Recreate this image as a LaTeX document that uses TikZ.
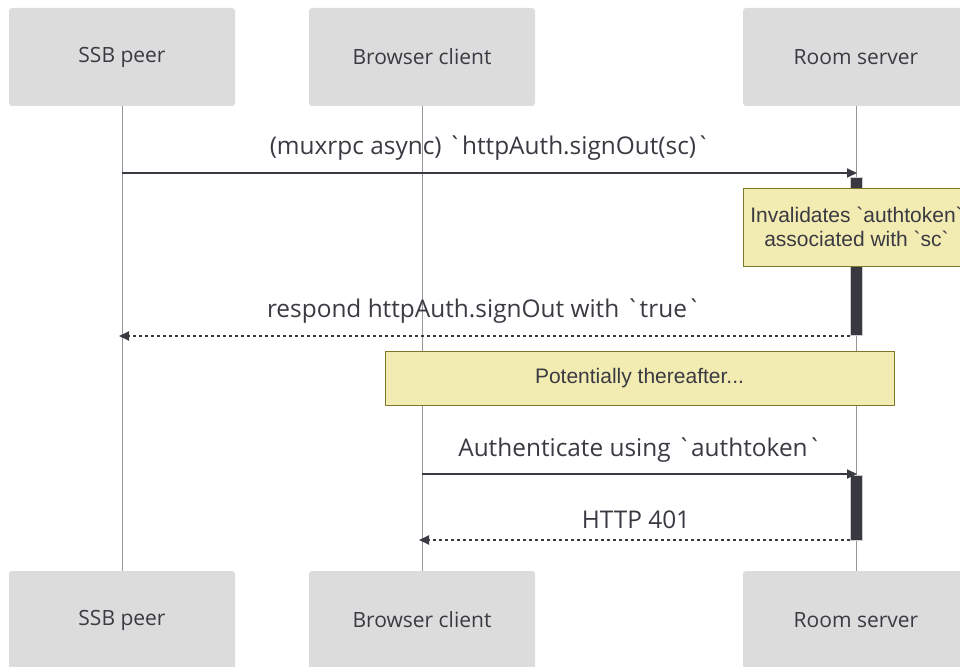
\documentclass[tikz,border=0pt]{standalone}
\usepackage{fontspec}
\newfontfamily\notefont[Ligatures=TeXOff]{Liberation Sans}
\newfontfamily\labelfont[Ligatures=TeXOff]{Open Sans}
\usetikzlibrary{arrows.meta}

\definecolor{actorfill}{RGB}{220,220,220}
\definecolor{inkgray}{RGB}{58,58,66}
\definecolor{lifegray}{RGB}{150,150,150}
\definecolor{notefill}{RGB}{243,236,178}
\definecolor{noteedge}{RGB}{128,118,42}
\definecolor{barfill}{RGB}{56,57,64}
\definecolor{baredge}{RGB}{205,205,205}

\tikzset{
  actor/.style={fill=actorfill, rounded corners=3pt, minimum width=226pt,
    minimum height=98pt, inner sep=0pt, text=inkgray,
    font=\labelfont\fontsize{21}{25}\selectfont},
  lifeline/.style={draw=lifegray, line width=1pt},
  msg/.style={draw=inkgray, line width=2pt, -{Triangle[length=10pt,width=9pt]}},
  reply/.style={msg, dash pattern=on 3.5pt off 2.5pt},
  msglabel/.style={text=inkgray, inner sep=0pt,
    font=\labelfont\fontsize{24.4}{28}\selectfont},
  notebox/.style={fill=notefill, draw=noteedge, line width=1pt, text=inkgray,
    inner sep=0pt, align=center, font=\notefont\fontsize{21}{24}\selectfont},
  actbar/.style={fill=barfill, draw=baredge, line width=1pt, inner sep=0pt,
    minimum width=12pt},
}

\begin{document}
\begin{tikzpicture}[x=1pt, y=-1pt]
  \useasboundingbox (0,0) rectangle (960,666);
  \clip (0,0) rectangle (960,666);

  % participants, top and bottom
  \node[actor] (peerT)    at (122,57)  {SSB peer};
  \node[actor] (browserT) at (422,57)  {Browser client};
  \node[actor] (roomT)    at (856,57)  {Room server};
  \node[actor] (peerB)    at (122,620) {SSB peer};
  \node[actor] (browserB) at (422,620) {Browser client};
  \node[actor] (roomB)    at (856,620) {Room server};

  % lifelines
  \draw[lifeline] (peerT.south) -- (peerB.north);
  \draw[lifeline] (browserT.south) -- (browserB.north);
  \draw[lifeline] (roomT.south) -- (roomB.north);

  % activation bars on the room server
  \node[actbar, minimum height=158pt] (act1) at (856,256) {};
  \node[actbar, minimum height=65pt]  (act2) at (856,507.5) {};

  % message end points on the lifelines
  \coordinate (m1s) at (122,173);
  \coordinate (m1e) at (857,173);
  \coordinate (m2s) at (850,336);
  \coordinate (m2e) at (119,336);
  \coordinate (m3s) at (422,474);
  \coordinate (m3e) at (857,474);
  \coordinate (m4s) at (850,540);
  \coordinate (m4e) at (419,540);

  % messages
  \draw[msg]   (m1s) -- (m1e);
  \node[msglabel] (l1) at (490,148) {(muxrpc async) `httpAuth.signOut(sc)`};

  \draw[reply] (m2s) -- (m2e);
  \node[msglabel] (l2) at (484,311) {respond httpAuth.signOut with `true`};

  \draw[msg]   (m3s) -- (m3e);
  \node[msglabel] (l3) at (640,450) {Authenticate using `authtoken`};

  \draw[reply] (m4s) -- (m4e);
  \node[msglabel] (l4) at (636,520) {HTTP 401};

  % notes
  \node[notebox, minimum width=227pt, minimum height=78pt] (n1) at (856.5,227)
    {Invalidates `authtoken`\\associated with `sc`};
  \node[notebox, minimum width=509pt, minimum height=54pt] (n2) at (639.5,378)
    {Potentially thereafter...};
\end{tikzpicture}
\end{document}
